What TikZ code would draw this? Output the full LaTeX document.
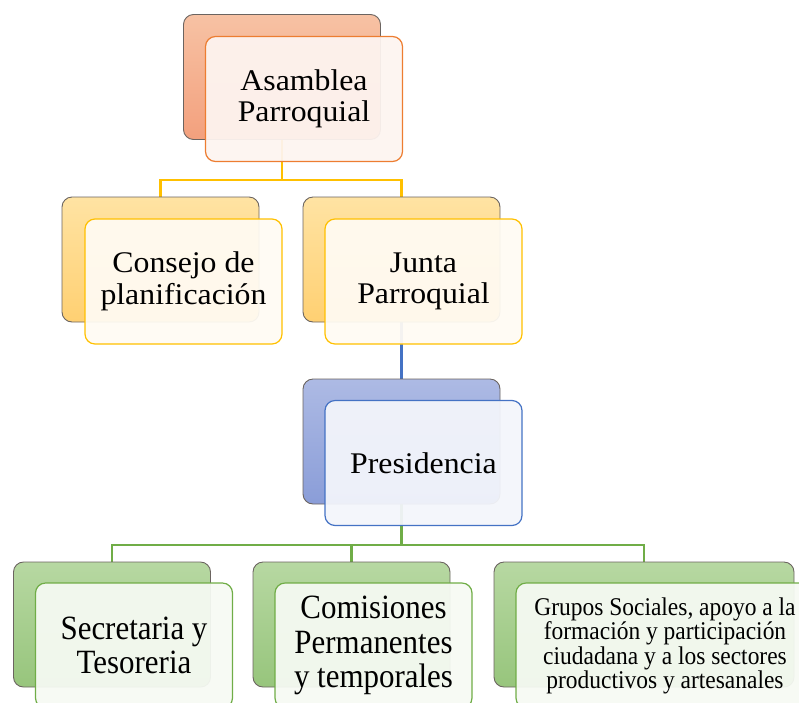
\documentclass[tikz,border=0pt]{standalone}
\usepackage{fontspec}
\setmainfont{Liberation Serif}
\newfontfamily\widefont[FakeStretch=1.06]{Liberation Serif}
\newfontfamily\narrowfont[FakeStretch=0.91]{Liberation Serif}
\newfontfamily\grupofont[FakeStretch=0.92]{Liberation Serif}
\definecolor{oBackT}{HTML}{F7C2A4}
\definecolor{oBackB}{HTML}{F3A07D}
\definecolor{oLine}{HTML}{ED7D31}
\definecolor{oFill}{HTML}{FDF4F0}
\definecolor{yBackT}{HTML}{FFE3A3}
\definecolor{yBackB}{HTML}{FFD072}
\definecolor{yLine}{HTML}{FFC000}
\definecolor{yFill}{HTML}{FFFBF3}
\definecolor{bBackT}{HTML}{ADBAE4}
\definecolor{bBackB}{HTML}{8A9DD8}
\definecolor{bLine}{HTML}{4472C4}
\definecolor{bFill}{HTML}{F3F5FB}
\definecolor{gBackT}{HTML}{B7D8A2}
\definecolor{gBackB}{HTML}{97C57C}
\definecolor{gLine}{HTML}{70AD47}
\definecolor{gFill}{HTML}{F6FAF3}
\definecolor{edgeGray}{HTML}{6B6460}
\tikzset{
  backbox/.style={draw=edgeGray, line width=0.9pt, rounded corners=10pt,
    minimum width=197pt, minimum height=125pt, inner sep=0pt},
  frontbox/.style={line width=1.2pt, rounded corners=10pt, fill opacity=0.94, text opacity=1,
    minimum width=197pt, minimum height=125pt, inner sep=2pt, align=center,
    font=\widefont\fontsize{30}{31.5}\selectfont},
  orangeback/.style={backbox, top color=oBackT, bottom color=oBackB},
  yellowback/.style={backbox, top color=yBackT, bottom color=yBackB},
  blueback/.style={backbox, top color=bBackT, bottom color=bBackB},
  greenback/.style={backbox, top color=gBackT, bottom color=gBackB},
  orangefront/.style={frontbox, draw=oLine, fill=oFill},
  yellowfront/.style={frontbox, draw=yLine, fill=yFill},
  bluefront/.style={frontbox, draw=bLine, fill=bFill},
  greenfront/.style={frontbox, draw=gLine, fill=gFill, font=\narrowfont\fontsize{34}{34.5}\selectfont},
  ylink/.style={draw=yLine, line width=2.6pt},
  blink/.style={draw=bLine, line width=2.4pt},
  glink/.style={draw=gLine, line width=2.6pt}
}
\begin{document}
\begin{tikzpicture}[x=1pt, y=-1pt]
\useasboundingbox (0,0) rectangle (799,702);
\coordinate (yj) at (282,180);
\coordinate (gj) at (401.5,545);
% invisible anchors for the connectors (same place as the back boxes)
\path (282,77) node[backbox, draw=none] (asB0) {};
\path (160.5,259.5) node[backbox, draw=none] (conB0) {};
\path (401.5,259.5) node[backbox, draw=none] (junB0) {};
\path (401.5,441.5) node[backbox, draw=none] (preB0) {};
\path (112,624.5) node[backbox, draw=none] (secB0) {};
\path (351.5,624.5) node[backbox, draw=none] (comB0) {};
\path (644,624.5) node[backbox, draw=none, minimum width=300pt] (gruB0) {};
\draw[ylink] (asB0.south) -- (yj) -| (conB0.north);
\draw[ylink] (yj) -| (junB0.north);
\draw[blink] (junB0.south) -- (preB0.north);
\draw[glink] (preB0.south) -- (gj) -| (secB0.north);
\draw[glink] (gj) -| (comB0.north);
\draw[glink] (gj) -| (gruB0.north);
% Asamblea
\node[orangeback] (asB) at (282,77) {};
\node[orangefront] (asF) at (304,99) {Asamblea\\Parroquial};
% Consejo
\node[yellowback] (conB) at (160.5,259.5) {};
\node[yellowfront] (conF) at (183.5,281.5) {Consejo de\\planificación};
% Junta
\node[yellowback] (junB) at (401.5,259.5) {};
\node[yellowfront] (junF) at (423.5,281.5) {Junta\\Parroquial};
% Presidencia
\node[blueback] (preB) at (401.5,441.5) {};
\node[bluefront] (preF) at (423.5,463) {Presidencia};
% bottom row
\node[greenback] (secB) at (112,624.5) {};
\node[greenfront] (secF) at (134,645.5) {Secretaria y\\Tesoreria};
\node[greenback] (comB) at (351.5,624.5) {};
\node[greenfront] (comF) at (373.5,645.5) {Comisiones\\Permanentes\\y temporales};
\node[greenback, minimum width=300pt] (gruB) at (644,624.5) {};
\node[greenfront, minimum width=300pt] (gruF) at (666,645.5) {};
\node[align=center, font=\grupofont\fontsize{25.5}{24.5}\selectfont, inner sep=0pt] (gruT) at (665,646) {Grupos Sociales, apoyo a la\\formación y participación\\ciudadana y a los sectores\\productivos y artesanales};
\end{tikzpicture}
\end{document}
